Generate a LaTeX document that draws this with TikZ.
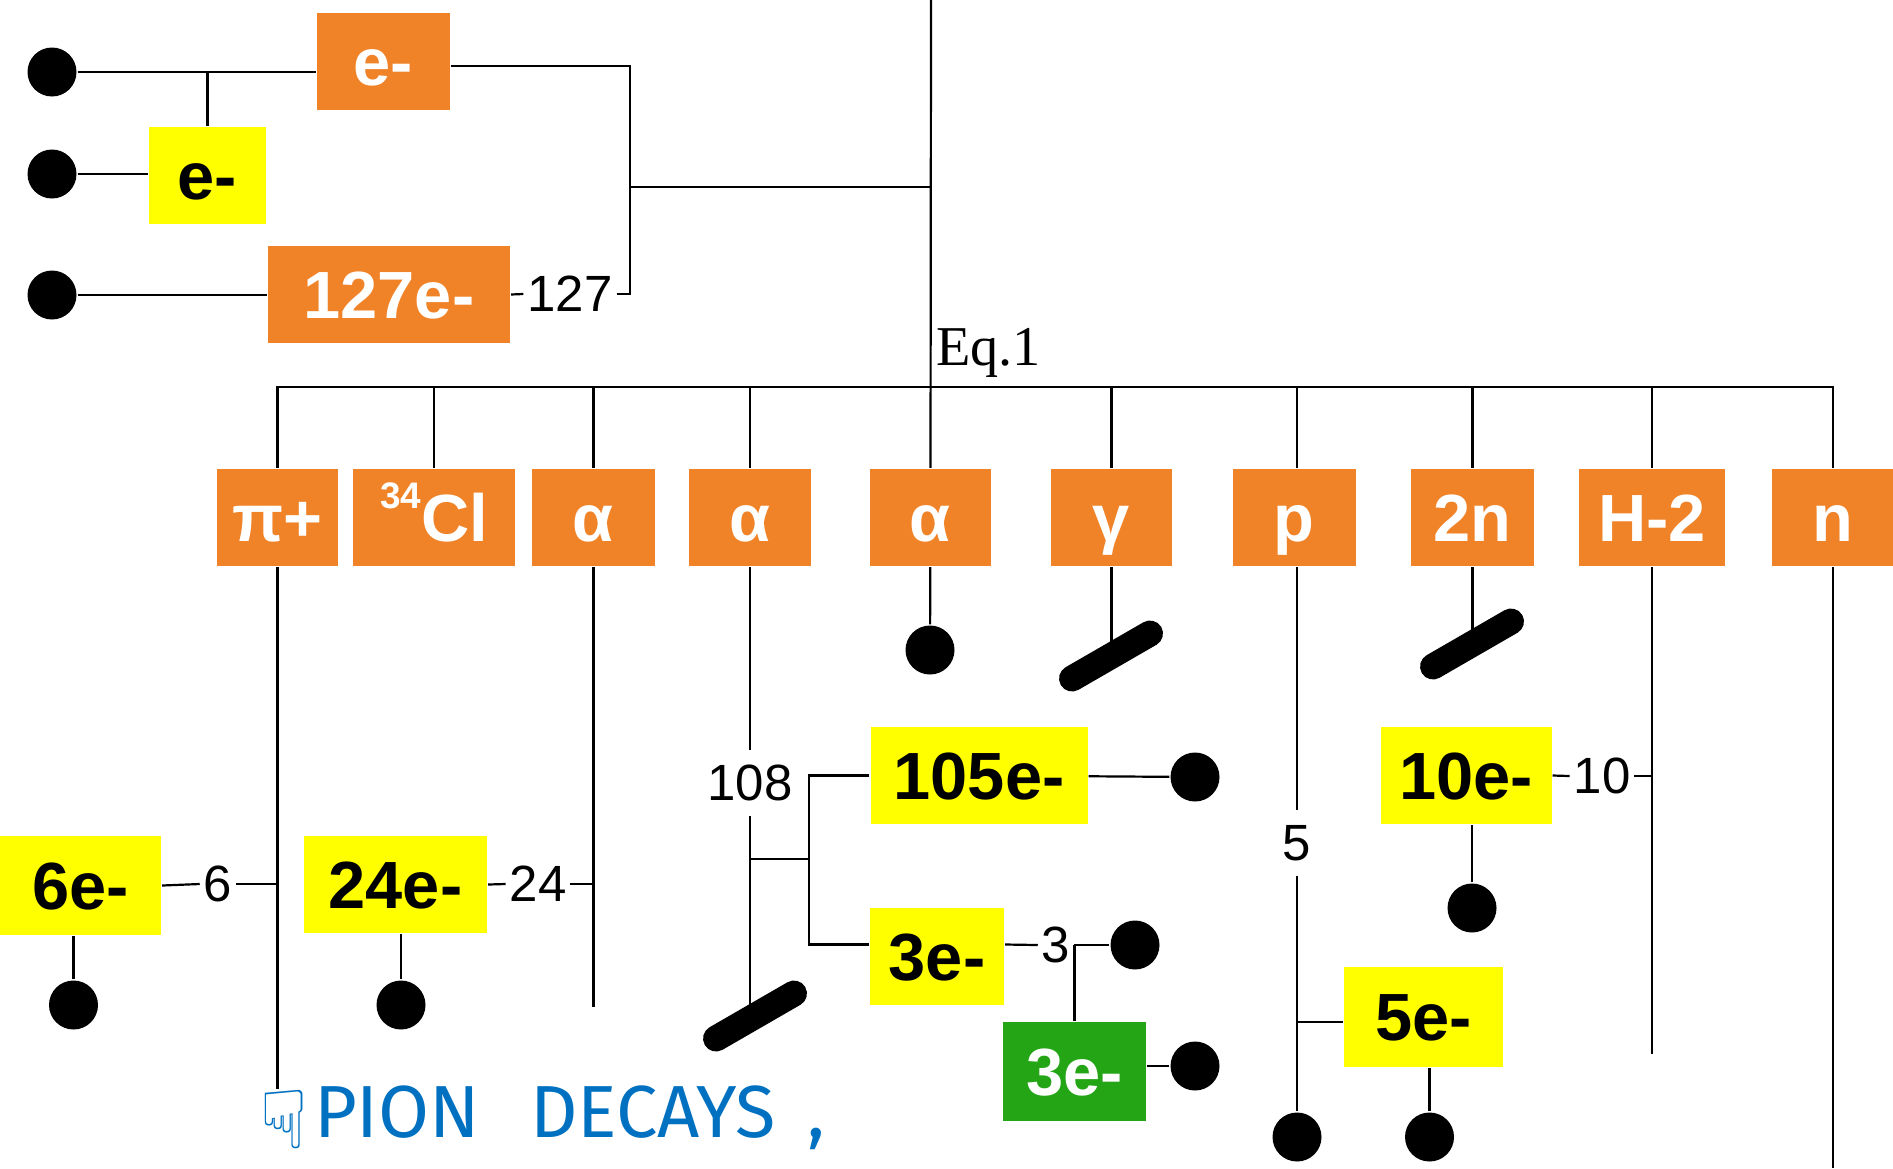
\documentclass[tikz,border=0pt]{standalone}
\usepackage{fontspec}
\setmainfont{Liberation Sans}
\newfontfamily\eqfont{Liberation Serif}
\newfontfamily\notefont{Fira Sans}
\newfontfamily\symfont{DejaVu Sans}
\usepackage{tikz}
\usetikzlibrary{positioning}
\definecolor{boxorange}{RGB}{240,131,40}
\definecolor{boxyellow}{RGB}{255,255,0}
\definecolor{boxgreen}{RGB}{36,165,22}
\definecolor{noteblue}{RGB}{0,112,192}

\begin{document}
\begin{tikzpicture}[x=0.1mm, y=-0.1mm, line width=0.22mm,
	box/.style={inner sep=0pt, minimum height=9.7mm, text height=13.6pt, text depth=0pt, font=\fontsize{19}{19}\selectfont\bfseries},
	obox/.style={box, fill=boxorange, text=white},
	ybox/.style={box, fill=boxyellow, text=black},
	gbox/.style={box, fill=boxgreen, text=white},
	ball/.style={circle, fill=black, inner sep=0pt, minimum size=4.9mm},
	bar/.style={rectangle, rounded corners=1.3mm, fill=black, inner sep=0pt, minimum width=11.6mm, minimum height=2.6mm, rotate=30},
	num/.style={inner xsep=0.3mm, inner ysep=1.4mm, font=\fontsize{14.5}{14.5}\selectfont},
]

\useasboundingbox (0,0) rectangle (1893,1168);

% top: the three electrons feeding the stem
\node[ball] (dA) at (52,72) {};
\node[ball] (dB) at (52,174) {};
\node[ball] (dC) at (52,295) {};
\node[obox, minimum width=13.3mm] (eTop) at (383.5,61.5) {e-};
\node[ybox, minimum width=11.7mm] (eMid) at (207.5,175.5) {e-};
\node[obox, minimum width=24.2mm] (e127) at (389,294.5) {127e-};
\node[num] (n127) at (570,294) {127};
\coordinate (join) at (630,187);
\coordinate (stem) at (931,0);

\draw (dA) -- (dA -| eTop.west);
\draw (eMid.north) -- (eMid.north |- dA);
\draw (dB) -- (dB -| eMid.west);
\draw (dC) -- (dC -| e127.west);
\draw (e127.east) -- (n127.west);
\draw (n127.east) -| (join) |- ([yshift=-0.45mm]eTop.east); % bracket
\draw (join) -- (join -| stem);

% row of products
\foreach \name/\xc/\bw/\lbl in {pip/277.5/12.1/π+, al1/593.5/12.3/α, al2/750/12.2/α, al3/930.5/12.1/α,
	gam/1111.5/12.1/γ, pp/1294/12.3/p, tn/1472.5/12.3/2n, h2/1652/14.6/H-2, nn/1833/12.2/n} {
	\node[obox, minimum width=\bw mm] (\name) at (\xc,517.5) {\lbl};
}
\node[obox, minimum width=16.2mm] (cl) at (434,517.5) {\raisebox{0.5em}{\fontsize{10.5}{10.5}\selectfont 34}Cl};

\draw (stem) -- (al3.north); % main stem
\node[anchor=base west, inner sep=0pt, font=\eqfont\fontsize{16}{16}\selectfont] (eq) at (935,365) {Eq.1};
\draw (pip.north) -- ++(0,-81) -| (nn.north); % bus
\coordinate (bus) at (0,387);
\foreach \name in {cl, al1, al2, gam, tn, h2} {
	\draw (\name.north) -- (\name.north |- bus);
}
\coordinate (pline) at (1297,0);
\draw (pline |- pp.north) -- (pline |- bus);

% pi+ branch
\node[ybox, minimum width=16.1mm, minimum height=9.9mm] (e6) at (80.5,885.5) {6e-};
\node[num] (n6) at (218,884) {6};
\node[ball] (d6) at (73.5,1005) {};
\draw (pip.south) -- ++(0,522);
\draw (e6.east) -- (n6.west);
\draw (n6.east) -- (n6.east -| pip.south);
\draw (d6) -- (d6 |- e6.south);

% first alpha
\node[ybox, minimum width=18.3mm] (e24) at (395.5,884.5) {24e-};
\node[num] (n24) at (538,884) {24};
\node[ball] (d24) at (401,1005) {};
\draw (al1.south) -- ++(0,440);
\draw (e24.east) -- (n24.west);
\draw (n24.east) -- (n24.east -| al1.south);
\draw (d24) -- (d24 |- e24.south);

% second alpha
\node[num] (n108) at (750,783) {108};
\node[bar] (s108) at (755,1016) {};
\node[ybox, minimum width=21.7mm] (e105) at (979,775.5) {105e-};
\node[ball] (d105) at (1195,777) {};
\node[ybox, minimum width=13.4mm] (e3) at (937,956.5) {3e-};
\node[num] (n3) at (1056,945) {3};
\node[ball] (d3a) at (1135,945) {};
\node[gbox, minimum width=14.3mm, minimum height=9.9mm] (g3) at (1074.5,1071.5) {3e-};
\node[ball] (d3b) at (1195,1066) {};
\coordinate (j108) at (750,859);
\coordinate (br) at (809,859);
\draw (al2.south) -- (n108.north);
\draw (n108.south) -- (n108.south |- s108.center);
\draw (j108) -- (br);
\draw (e105.west) -| (br) |- ([yshift=1.2mm]e3.west);
\draw (e105) -- (d105);
\draw ([yshift=1.2mm]e3.east) -- (n3.west);
\draw (n3.east) -- (d3a);
\draw (g3.north) -- (g3.north |- d3a);
\draw (d3b) -- (d3b -| g3.east);

% third alpha, gamma, 2n
\node[ball] (dal3) at (930,650) {};
\node[bar] (sgam) at (1111,656) {};
\node[bar] (stn) at (1472,644) {};
\draw (al3) -- (dal3);
\draw (gam.south) -- (gam.south |- sgam.center);
\draw (tn.south) -- (tn.south |- stn.center);

% proton
\node[num] (n5) at (1297,843) {5};
\node[ball] (d5a) at (1297,1137) {};
\node[ybox, minimum width=15.9mm, minimum height=10mm] (e5) at (1423.5,1017) {5e-};
\node[ball] (d5b) at (1429.5,1137) {};
\draw (pline |- pp.south) -- (n5.north);
\draw (n5.south) -- (d5a);
\draw ([yshift=-0.5mm]e5.west) -- ([yshift=-0.5mm]e5.west -| pline);
\draw (d5b) -- (d5b |- e5.south);

% deuteron, neutron
\node[ybox, minimum width=17.1mm] (e10) at (1466,775.5) {10e-};
\node[num] (n10) at (1602,776) {10};
\node[ball] (d10) at (1472,908) {};
\draw (h2.south) -- ++(0,487);
\draw (e10.east) -- (n10.west);
\draw (n10.east) -- (n10.east -| h2.south);
\draw (d10) -- (d10 |- e10.south);
\draw (nn.south) -- ++(0,601);

% note
\node[anchor=base west, inner sep=0pt, text=noteblue, font=\notefont\fontsize{21}{21}\selectfont] (note) at (313,1137) {PION\hspace{5mm}DECAYS\hspace{3.2mm},};
\node[inner sep=0pt, text=noteblue, font=\symfont\fontsize{23}{23}\selectfont] (hand) at (284,1120) {☟};

\end{tikzpicture}
\end{document}
